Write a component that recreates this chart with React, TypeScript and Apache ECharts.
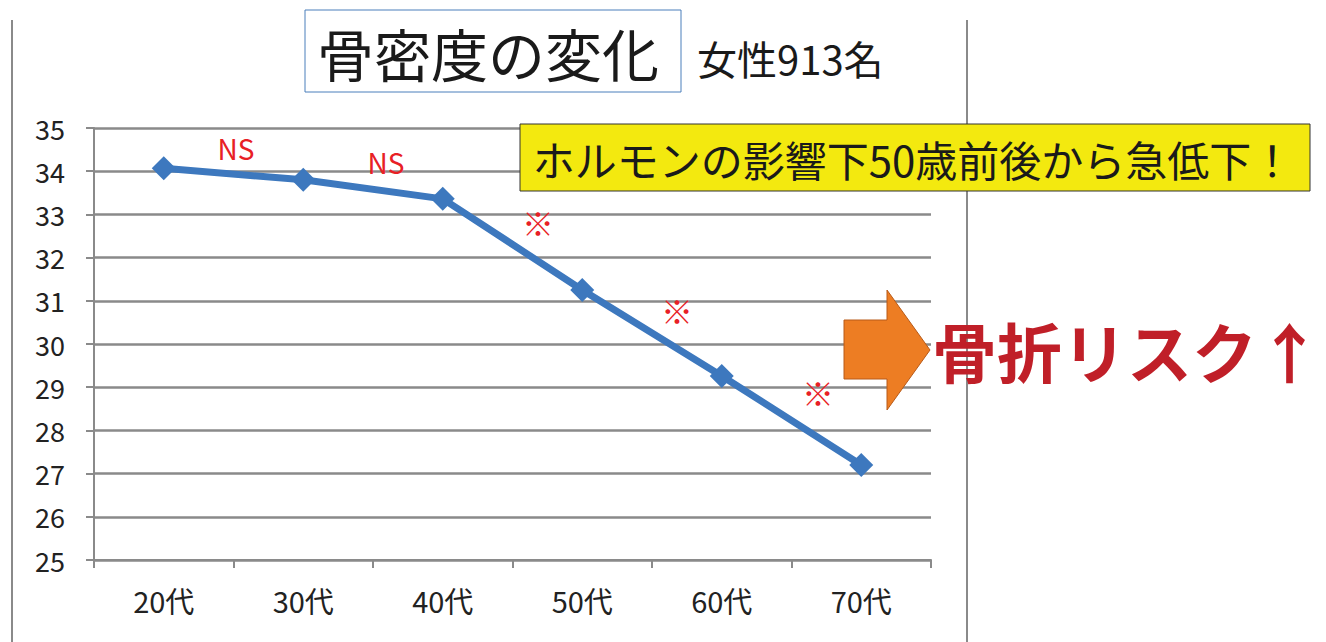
import React, { useEffect, useRef } from "react";
import * as echarts from "echarts";

const categories = ["20代", "30代", "40代", "50代", "60代", "70代"];
const boneDensity = [34.07, 33.8, 33.36, 31.25, 29.26, 27.2];
const yMin = 25;
const yMax = 35;
const nsLabels = [
  { text: "NS", x: 236, y: 148 },
  { text: "NS", x: 386, y: 162 },
];
const markLabels = [
  { text: "※", x: 538, y: 222 },
  { text: "※", x: 677, y: 310 },
  { text: "※", x: 818, y: 392 },
];
const titleText = "骨密度の変化";
const subtitleText = "女性913名";
const calloutText = "ホルモンの影響下50歳前後から急低下！";
const riskText = "骨折リスク↑";

const FONT = "'Noto Sans CJK JP', 'Noto Sans', sans-serif";

export default function App() {
  const ref = useRef<HTMLDivElement>(null);
  useEffect(() => {
    if (!ref.current) return;
    const chart = echarts.init(ref.current, null, { renderer: "svg" });
    const gridColor = "#8a8a8a";
    chart.setOption({
      animation: false,
      backgroundColor: "#ffffff",
      textStyle: { fontFamily: FONT },
      grid: { left: 94, right: 395, top: 128, bottom: 82, containLabel: false },
      xAxis: {
        type: "category",
        data: categories,
        boundaryGap: true,
        axisLine: { show: true, lineStyle: { color: gridColor, width: 2 } },
        axisTick: { show: true, length: 8, alignWithLabel: false, lineStyle: { color: gridColor, width: 2 } },
        axisLabel: { color: "#222", fontSize: 29, margin: 25, fontFamily: FONT },
        splitLine: { show: false },
      },
      yAxis: {
        type: "value",
        min: yMin,
        max: yMax,
        interval: 1,
        axisLine: { show: true, lineStyle: { color: gridColor, width: 2 } },
        axisTick: { show: true, length: 8, lineStyle: { color: gridColor, width: 2 } },
        axisLabel: { color: "#222", fontSize: 27, margin: 29, fontFamily: FONT },
        splitLine: { show: true, lineStyle: { color: gridColor, width: 2.5 } },
      },
      series: [
        {
          type: "line",
          data: boneDensity,
          symbol: "diamond",
          symbolSize: 24,
          lineStyle: { color: "#3d78be", width: 7 },
          itemStyle: { color: "#3d78be" },
          z: 5,
        },
      ],
      graphic: [
        { type: "line", shape: { x1: 12, y1: 20, x2: 12, y2: 642 }, style: { stroke: "#8a8a8a", lineWidth: 2 } },
        { type: "line", shape: { x1: 967, y1: 20, x2: 967, y2: 642 }, style: { stroke: "#8a8a8a", lineWidth: 2 } },
        {
          type: "rect",
          shape: { x: 305, y: 10, width: 376, height: 82 },
          style: { fill: "#ffffff", stroke: "#4a7ebb", lineWidth: 1 },
        },
        {
          type: "text",
          x: 488,
          y: 52,
          style: { text: titleText, fontSize: 57, fill: "#1a1a1a", fontFamily: FONT, align: "center", verticalAlign: "middle" },
        },
        {
          type: "text",
          x: 697,
          y: 58,
          style: { text: subtitleText, fontSize: 40, fill: "#1a1a1a", fontFamily: FONT, align: "left", verticalAlign: "middle" },
        },
        ...nsLabels.map((l) => ({
          type: "text",
          x: l.x,
          y: l.y,
          z: 10,
          style: { text: l.text, fontSize: 28, fill: "#e82025", fontFamily: FONT, align: "center", verticalAlign: "middle" },
        })),
        ...markLabels.map((l) => ({
          type: "text",
          x: l.x,
          y: l.y,
          z: 10,
          style: { text: l.text, fontSize: 32, fill: "#e82025", fontFamily: FONT, align: "center", verticalAlign: "middle" },
        })),
        {
          type: "rect",
          z: 20,
          shape: { x: 520, y: 124, width: 790, height: 67 },
          style: { fill: "#f3e90f", stroke: "#333333", lineWidth: 1 },
        },
        {
          type: "text",
          z: 21,
          x: 913,
          y: 158,
          style: { text: calloutText, fontSize: 42, fill: "#1a1a1a", fontFamily: FONT, align: "center", verticalAlign: "middle" },
        },
        {
          type: "polygon",
          z: 20,
          shape: {
            points: [
              [844, 320],
              [887, 320],
              [887, 290],
              [930, 350],
              [887, 410],
              [887, 379],
              [844, 379],
            ],
          },
          style: { fill: "#ed7d23", stroke: "#b85a18", lineWidth: 1 },
        },
        {
          type: "text",
          z: 21,
          x: 1127,
          y: 350,
          style: { text: riskText, fontSize: 65, fontWeight: "bold", fill: "#c01f28", fontFamily: FONT, align: "center", verticalAlign: "middle" },
        },
      ],
    });
    return () => chart.dispose();
  }, []);
  return <div ref={ref} style={{ position: "absolute", left: 0, top: 0, width: 1326, height: 642 }} />;
}
